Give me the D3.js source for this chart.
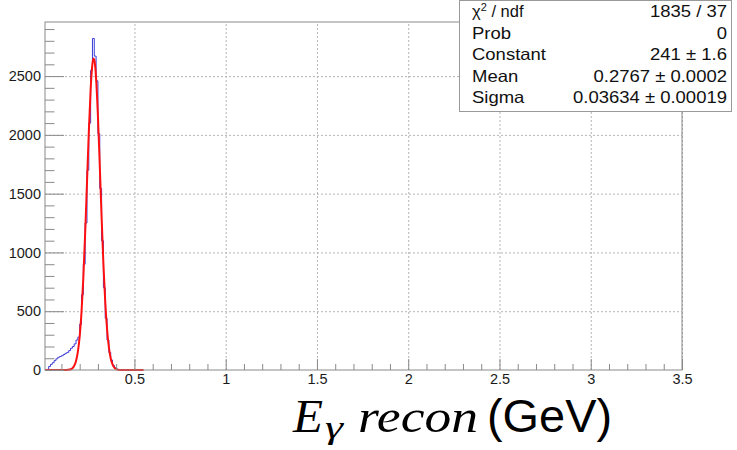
<!DOCTYPE html>
<html>
<head>
<meta charset="utf-8">
<script src="https://cdn.jsdelivr.net/npm/d3@7"></script>
<style>
  body { margin: 0; background: #fff; }
</style>
</head>
<body>
<div id="chart"></div>
<script>
// Histogram: lower bin edges (GeV) and counts, bin width 0.01
var binLow = [0.02, 0.03, 0.04, 0.05, 0.06, 0.07, 0.08, 0.09, 0.10, 0.11,
              0.12, 0.13, 0.14, 0.15, 0.16, 0.17, 0.18, 0.19, 0.20, 0.21,
              0.22, 0.23, 0.24, 0.25, 0.26, 0.27, 0.28, 0.29, 0.30, 0.31,
              0.32, 0.33, 0.34, 0.35, 0.36, 0.37, 0.38, 0.39, 0.40, 0.41];
var binCounts = [5, 30, 48, 62, 80, 95, 108, 115, 122, 132,
                 142, 150, 165, 185, 200, 222, 255, 280, 390, 640,
                 900, 1250, 1700, 2100, 2550, 2820, 2670, 2460, 2010, 1545,
                 1100, 700, 440, 255, 150, 85, 40, 18, 6, 2];
var binWidth = 0.01;

// Fitted gaussian
var fitX = [0.01, 0.10, 0.13, 0.14, 0.15, 0.16, 0.17, 0.18, 0.19, 0.20,
            0.21, 0.22, 0.23, 0.24, 0.25, 0.26, 0.265, 0.27, 0.275, 0.28,
            0.285, 0.29, 0.30, 0.31, 0.32, 0.33, 0.34, 0.35, 0.36, 0.37,
            0.38, 0.39, 0.40, 0.41, 0.42, 0.45, 0.55];
var fitY = [0, 0, 1, 2, 6, 15, 36, 77, 154, 285,
            492, 785, 1160, 1591, 2023, 2384, 2516, 2605, 2649, 2639,
            2582, 2478, 2158, 1741, 1303, 904, 581, 347, 192, 98,
            47, 21, 8, 3, 1, 0, 0];

var xTicks = [0.5, 1, 1.5, 2, 2.5, 3, 3.5];
var yTicks = [0, 500, 1000, 1500, 2000, 2500];

var statNames = ["χ² / ndf", "Prob", "Constant", "Mean", "Sigma"];
var statValues = ["1835 / 37", "0", "241 ± 1.6", "0.2767 ± 0.0002", "0.03634 ± 0.00019"];

var width = 737, height = 450;
var frame = { left: 45, top: 22, right: 682, bottom: 370 };
var sans = "'Liberation Sans', Arial, Helvetica, sans-serif";
var serif = "'Liberation Serif', 'DejaVu Serif', 'Times New Roman', serif";

var svg = d3.select("#chart").append("svg")
  .attr("width", width)
  .attr("height", height)
  .style("font-family", sans);

svg.append("rect").attr("width", width).attr("height", height).attr("fill", "#fff");

var x = d3.scaleLinear().domain([0.01, 3.5]).range([frame.left, frame.right]);
var y = d3.scaleLinear().domain([0, 2960]).range([frame.bottom, frame.top]);

var fw = frame.right - frame.left, fh = frame.bottom - frame.top;

// grid
svg.append("g")
  .attr("class", "grid")
  .attr("transform", "translate(0," + frame.bottom + ")")
  .call(d3.axisBottom(x).tickValues(xTicks).tickSize(-fh).tickFormat(""))
  .call(function(g) { g.select(".domain").remove(); });
svg.append("g")
  .attr("class", "grid")
  .attr("transform", "translate(" + frame.left + ",0)")
  .call(d3.axisLeft(y).tickValues(yTicks.slice(1)).tickSize(-fw).tickFormat(""))
  .call(function(g) { g.select(".domain").remove(); });
svg.selectAll(".grid line")
  .attr("stroke", "#b4b4b4")
  .attr("stroke-dasharray", "2,2");

// histogram as a step line
var pts = [[binLow[0], 0]];
binLow.forEach(function(lo, i) {
  pts.push([lo, binCounts[i]]);
  pts.push([lo + binWidth, binCounts[i]]);
});
pts.push([binLow[binLow.length - 1] + binWidth, 0]);

svg.append("path")
  .datum(pts)
  .attr("fill", "none")
  .attr("stroke", "#3c3cd8")
  .attr("stroke-width", 1)
  .attr("d", d3.line().x(function(d) { return x(d[0]); }).y(function(d) { return y(d[1]); }));

// fit curve
svg.append("path")
  .datum(fitX.map(function(v, i) { return [v, fitY[i]]; }))
  .attr("fill", "none")
  .attr("stroke", "#ff1010")
  .attr("stroke-width", 2)
  .attr("d", d3.line().curve(d3.curveMonotoneX)
    .x(function(d) { return x(d[0]); }).y(function(d) { return y(d[1]); }));

// frame
svg.append("rect")
  .attr("x", frame.left).attr("y", frame.top)
  .attr("width", fw).attr("height", fh)
  .attr("fill", "none").attr("stroke", "#8a8a8a");

// x axis (ticks point inward)
var xMinor = d3.range(1, 36).map(function(i) { return i / 10; })
  .filter(function(v) { return xTicks.indexOf(v) < 0; });
svg.append("g")
  .attr("class", "tick-minor")
  .attr("transform", "translate(0," + frame.bottom + ")")
  .call(d3.axisBottom(x).tickValues(xMinor).tickSize(-6).tickFormat(""));
svg.append("g")
  .attr("class", "xAxis")
  .attr("transform", "translate(0," + frame.bottom + ")")
  .call(d3.axisBottom(x).tickValues(xTicks).tickSize(-11).tickPadding(4).tickFormat(d3.format("~g")));

// y axis
var yMinor = d3.range(100, 3000, 100).filter(function(v) { return v % 500 !== 0; });
svg.append("g")
  .attr("class", "tick-minor")
  .attr("transform", "translate(" + frame.left + ",0)")
  .call(d3.axisLeft(y).tickValues(yMinor).tickSize(-9.5).tickFormat(""));
svg.append("g")
  .attr("class", "yAxis")
  .attr("transform", "translate(" + frame.left + ",0)")
  .call(d3.axisLeft(y).tickValues(yTicks).tickSize(-19).tickPadding(4).tickFormat(d3.format("d")));

svg.selectAll(".xAxis .domain, .yAxis .domain, .tick-minor .domain").remove();
svg.selectAll(".xAxis line, .yAxis line, .tick-minor line").attr("stroke", "#8a8a8a");
svg.selectAll(".xAxis text, .yAxis text")
  .attr("font-size", 14.5)
  .attr("font-family", sans)
  .attr("fill", "#1a1a1a");

// stats box
var stats = svg.append("g").attr("class", "stats").attr("fill", "#111");
stats.append("rect")
  .attr("x", 459.5).attr("y", 0.5)
  .attr("width", 272).attr("height", 111)
  .attr("fill", "#fff").attr("stroke", "#999");

// the box text is a bit wider than plain 16px Liberation Sans
function stretch(t) {
  t.attr("textLength", t.node().getComputedTextLength() * 1.12)
   .attr("lengthAdjust", "spacingAndGlyphs");
}
statNames.forEach(function(name, i) {
  var by = 17 + i * 21.5;
  if (i === 0) {
    var t = stats.append("text").attr("x", 472).attr("y", by).attr("font-size", 16.5);
    t.append("tspan").text("χ");
    t.append("tspan").attr("font-size", 11).attr("dy", -6).text("2");
    t.append("tspan").attr("dy", 6).text(" / ndf");
  } else {
    stretch(stats.append("text").attr("x", 472).attr("y", by).attr("font-size", 16.5).text(name));
  }
  stretch(stats.append("text").attr("x", 727).attr("y", by)
    .attr("font-size", 16.5).attr("text-anchor", "end").text(statValues[i]));
});

// x axis title
var title = svg.append("g").attr("class", "xText").attr("fill", "#000");
title.append("text")
  .attr("x", 293).attr("y", 432)
  .attr("font-family", serif)
  .attr("font-style", "italic").attr("font-size", 46)
  .attr("textLength", 30).attr("lengthAdjust", "spacingAndGlyphs")
  .text("E");
title.append("text")
  .attr("x", 325).attr("y", 438)
  .attr("font-family", serif)
  .attr("font-style", "italic").attr("font-size", 32)
  .attr("textLength", 18).attr("lengthAdjust", "spacingAndGlyphs")
  .text("γ");
title.append("text")
  .attr("x", 358).attr("y", 432)
  .attr("font-family", serif)
  .attr("font-style", "italic").attr("font-size", 47)
  .attr("textLength", 120).attr("lengthAdjust", "spacingAndGlyphs")
  .text("recon");
title.append("text")
  .attr("x", 487).attr("y", 432)
  .attr("font-family", sans)
  .attr("font-size", 46)
  .attr("textLength", 125).attr("lengthAdjust", "spacingAndGlyphs")
  .text("(GeV)");
</script>
</body>
</html>
